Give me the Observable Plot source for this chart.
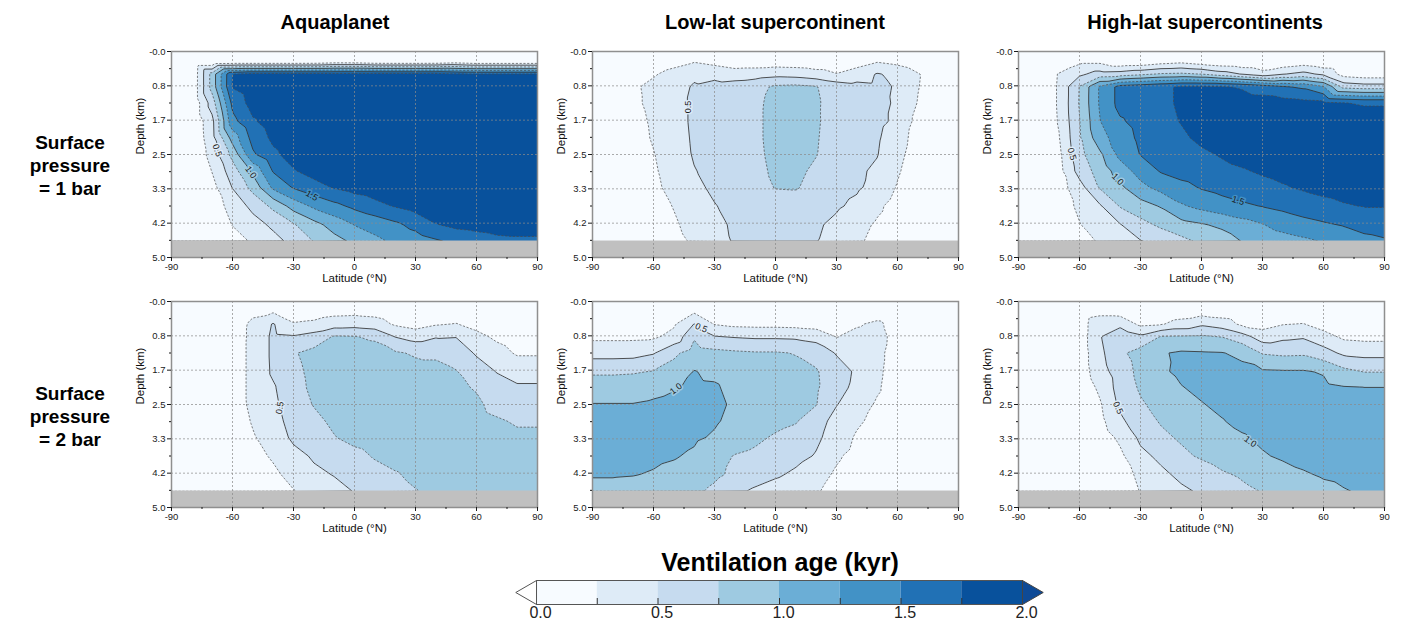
<!DOCTYPE html>
<html><head><meta charset="utf-8">
<script src="https://cdn.jsdelivr.net/npm/d3@7"></script>
<script src="https://cdn.jsdelivr.net/npm/@observablehq/plot@0.6"></script>
<style>
html,body{margin:0;padding:0;background:#fff;}
#root{position:relative;width:1402px;height:628px;overflow:hidden;font-family:"Liberation Sans",Arial,sans-serif;color:#000;}
.abs{position:absolute;white-space:nowrap;transform:translate(-50%,-50%);}
.ctitle{font-weight:bold;font-size:20px;}
.rlabel{font-weight:bold;font-size:19px;line-height:23px;text-align:center;}
.cbtitle{font-weight:bold;font-size:25px;}
</style></head>
<body><div id="root"></div>
<script>
// ---------- grid axes of the sampled fields ----------
const lats = [-90,-80,-70,-60,-50,-40,-30,-20,-10,0,10,20,30,40,50,60,70,80,90];
const depths = [0, 0.25, 0.55, 0.85, 1.25, 1.7, 2.1, 2.5, 2.9, 3.3, 3.75, 4.2, 4.6];

// ---------- ventilation age (kyr), rows = depths, columns = lats ----------
const aquaplanet1bar = [
 [0,0,0,0,0,0,0,0,0,0,0,0,0,0,0,0,0,0,0],
 [0,0,0,0.02,0.02,0.02,0.02,0.03,0.1,0.1,0.03,0.02,0.02,0.03,0.1,0.02,0.02,0.02,0.02],
 [0,0.02,0.85,1.76,1.85,1.85,1.85,1.85,1.85,1.85,1.85,1.85,1.85,1.85,1.8,1.78,1.78,1.78,1.78],
 [0,0.02,0.85,1.77,1.9,1.9,1.9,1.9,1.9,1.9,1.9,1.9,1.9,1.9,1.9,1.9,1.9,1.9,1.9],
 [0,0.02,0.62,1.57,1.85,1.9,1.9,1.9,1.9,1.9,1.9,1.9,1.9,1.9,1.9,1.9,1.9,1.9,1.9],
 [0,0.02,0.43,1.42,1.72,1.86,1.9,1.9,1.9,1.9,1.9,1.9,1.9,1.9,1.9,1.9,1.9,1.9,1.9],
 [0,0.02,0.41,1.1,1.59,1.8,1.9,1.9,1.9,1.9,1.9,1.9,1.9,1.9,1.9,1.9,1.9,1.9,1.9],
 [0,0.02,0.35,0.83,1.46,1.7,1.85,1.9,1.9,1.9,1.9,1.9,1.9,1.9,1.9,1.9,1.9,1.9,1.9],
 [0,0.02,0.26,0.63,1.06,1.52,1.73,1.85,1.9,1.9,1.9,1.9,1.9,1.9,1.9,1.9,1.9,1.9,1.9],
 [0,0.02,0.17,0.51,0.83,1.3,1.52,1.65,1.77,1.85,1.9,1.9,1.9,1.9,1.9,1.9,1.9,1.9,1.9],
 [0,0.02,0.12,0.34,0.57,0.81,1.1,1.3,1.43,1.56,1.67,1.77,1.85,1.9,1.9,1.9,1.9,1.9,1.9],
 [0,0.02,0.1,0.26,0.4,0.55,0.73,0.92,1.1,1.26,1.35,1.45,1.58,1.74,1.82,1.85,1.88,1.88,1.88],
 [0,0.02,0.05,0.15,0.28,0.42,0.57,0.76,0.92,1.05,1.19,1.3,1.38,1.47,1.56,1.62,1.68,1.7,1.7]
];
const lowLat1bar = [
 [0.03,0.03,0.03,0.03,0.03,0.03,0.03,0.03,0.03,0.03,0.03,0.03,0.03,0.03,0.03,0.03,0.03,0.03,0.03],
 [0.05,0.06,0.08,0.12,0.18,0.24,0.18,0.12,0.12,0.13,0.12,0.1,0.1,0.15,0.24,0.18,0.08,0.05,0.05],
 [0.05,0.08,0.15,0.23,0.32,0.46,0.42,0.36,0.38,0.42,0.4,0.34,0.26,0.36,0.52,0.44,0.27,0.1,0.07],
 [0.05,0.1,0.22,0.3,0.42,0.52,0.58,0.62,0.68,0.78,0.8,0.76,0.64,0.58,0.55,0.48,0.26,0.12,0.08],
 [0.05,0.1,0.21,0.3,0.42,0.54,0.6,0.64,0.7,0.82,0.84,0.78,0.65,0.6,0.56,0.47,0.24,0.12,0.08],
 [0.05,0.1,0.18,0.28,0.41,0.54,0.6,0.65,0.7,0.83,0.85,0.78,0.64,0.59,0.56,0.45,0.17,0.1,0.07],
 [0.05,0.08,0.16,0.27,0.4,0.53,0.6,0.64,0.7,0.83,0.85,0.77,0.63,0.58,0.53,0.36,0.15,0.08,0.06],
 [0.05,0.08,0.15,0.24,0.38,0.52,0.58,0.63,0.69,0.82,0.84,0.76,0.62,0.56,0.51,0.32,0.13,0.07,0.05],
 [0.04,0.07,0.13,0.22,0.35,0.49,0.56,0.61,0.67,0.8,0.81,0.7,0.6,0.54,0.46,0.28,0.1,0.06,0.05],
 [0.04,0.06,0.11,0.2,0.32,0.45,0.54,0.59,0.65,0.76,0.77,0.66,0.58,0.53,0.43,0.23,0.09,0.05,0.04],
 [0.03,0.05,0.09,0.16,0.26,0.38,0.49,0.56,0.6,0.63,0.62,0.58,0.53,0.45,0.3,0.15,0.07,0.04,0.03],
 [0.03,0.04,0.07,0.13,0.22,0.33,0.45,0.53,0.56,0.58,0.57,0.53,0.45,0.33,0.22,0.12,0.05,0.03,0.03],
 [0.02,0.03,0.06,0.11,0.19,0.28,0.42,0.52,0.55,0.56,0.55,0.51,0.4,0.29,0.18,0.1,0.05,0.03,0.02]
];
const highLat1bar = [
 [0.02,0.02,0.02,0.02,0.02,0.02,0.02,0.02,0.02,0.02,0.02,0.02,0.02,0.02,0.02,0.02,0.02,0.02,0.02],
 [0.02,0.02,0.05,0.2,0.2,0.05,0.06,0.15,0.2,0.12,0.06,0.04,0.03,0.06,0.12,0.05,0.03,0.02,0.02],
 [0.02,0.04,0.27,0.45,0.6,0.62,0.7,0.78,0.8,0.75,0.62,0.49,0.35,0.49,0.58,0.45,0.15,0.1,0.1],
 [0.03,0.05,0.28,0.76,1.28,1.58,1.63,1.7,1.78,1.78,1.77,1.72,1.62,1.52,1.45,1.26,0.65,0.6,0.6],
 [0.03,0.05,0.28,0.77,1.28,1.58,1.63,1.7,1.78,1.85,1.88,1.88,1.87,1.85,1.82,1.8,1.76,1.72,1.72],
 [0.03,0.05,0.27,0.74,1.24,1.47,1.58,1.68,1.76,1.85,1.88,1.9,1.9,1.9,1.9,1.9,1.9,1.9,1.9],
 [0.03,0.05,0.24,0.72,1.15,1.38,1.55,1.63,1.71,1.8,1.85,1.9,1.9,1.9,1.9,1.9,1.9,1.9,1.9],
 [0.03,0.04,0.2,0.68,0.95,1.32,1.51,1.58,1.65,1.71,1.77,1.83,1.87,1.9,1.9,1.9,1.9,1.9,1.9],
 [0.03,0.04,0.17,0.6,0.85,1.12,1.35,1.52,1.6,1.65,1.69,1.73,1.78,1.82,1.85,1.88,1.88,1.88,1.88],
 [0.03,0.04,0.14,0.4,0.77,0.95,1.18,1.33,1.42,1.52,1.58,1.63,1.68,1.73,1.78,1.82,1.85,1.87,1.87],
 [0.03,0.04,0.12,0.3,0.47,0.77,0.9,1.02,1.22,1.32,1.4,1.46,1.51,1.56,1.62,1.68,1.73,1.76,1.76],
 [0.02,0.03,0.1,0.24,0.4,0.49,0.67,0.8,0.92,0.98,1.05,1.15,1.24,1.35,1.42,1.47,1.52,1.6,1.63],
 [0.02,0.03,0.08,0.18,0.27,0.38,0.49,0.58,0.68,0.8,0.88,1.01,1.08,1.14,1.2,1.27,1.35,1.42,1.47]
];
const aquaplanet2bar = [
 [0.03,0.03,0.03,0.03,0.03,0.03,0.03,0.03,0.03,0.03,0.03,0.03,0.03,0.03,0.03,0.03,0.03,0.03,0.03],
 [0.05,0.05,0.05,0.05,0.2,0.23,0.12,0.14,0.18,0.19,0.17,0.1,0.08,0.1,0.12,0.08,0.05,0.05,0.05],
 [0.05,0.05,0.06,0.12,0.3,0.52,0.27,0.3,0.38,0.4,0.36,0.22,0.15,0.23,0.26,0.17,0.1,0.07,0.07],
 [0.05,0.06,0.08,0.14,0.3,0.55,0.52,0.6,0.77,0.76,0.71,0.49,0.4,0.48,0.49,0.32,0.2,0.12,0.12],
 [0.05,0.06,0.08,0.15,0.3,0.55,0.73,0.82,0.86,0.87,0.85,0.78,0.72,0.72,0.65,0.47,0.35,0.22,0.22],
 [0.05,0.06,0.08,0.15,0.3,0.54,0.7,0.8,0.86,0.88,0.88,0.86,0.84,0.8,0.76,0.63,0.49,0.42,0.42],
 [0.05,0.06,0.08,0.15,0.3,0.47,0.68,0.79,0.86,0.88,0.88,0.87,0.86,0.84,0.8,0.73,0.6,0.53,0.53],
 [0.05,0.06,0.08,0.14,0.3,0.44,0.65,0.76,0.84,0.88,0.9,0.9,0.88,0.86,0.84,0.8,0.66,0.62,0.62],
 [0.05,0.05,0.07,0.12,0.27,0.4,0.6,0.7,0.79,0.86,0.88,0.89,0.89,0.88,0.86,0.84,0.78,0.72,0.72],
 [0.04,0.05,0.06,0.1,0.23,0.35,0.55,0.64,0.74,0.82,0.86,0.88,0.88,0.88,0.87,0.86,0.84,0.8,0.8],
 [0.04,0.05,0.06,0.09,0.17,0.28,0.42,0.53,0.6,0.68,0.77,0.83,0.86,0.87,0.87,0.87,0.86,0.85,0.85],
 [0.04,0.04,0.05,0.07,0.13,0.2,0.33,0.45,0.51,0.6,0.67,0.73,0.8,0.85,0.86,0.86,0.86,0.85,0.85],
 [0.03,0.04,0.05,0.06,0.1,0.16,0.24,0.33,0.43,0.51,0.6,0.68,0.74,0.8,0.84,0.85,0.85,0.85,0.85]
];
const lowLat2bar = [
 [0.03,0.03,0.03,0.03,0.03,0.03,0.03,0.03,0.03,0.03,0.03,0.03,0.03,0.03,0.03,0.03,0.03,0.03,0.03],
 [0.08,0.08,0.08,0.08,0.1,0.22,0.1,0.08,0.08,0.08,0.08,0.08,0.08,0.08,0.1,0.06,0.05,0.05,0.05],
 [0.1,0.1,0.11,0.12,0.22,0.51,0.24,0.19,0.18,0.18,0.17,0.15,0.13,0.22,0.31,0.12,0.06,0.05,0.05],
 [0.2,0.2,0.2,0.21,0.32,0.72,0.51,0.48,0.46,0.46,0.45,0.4,0.24,0.33,0.36,0.14,0.06,0.05,0.05],
 [0.4,0.4,0.41,0.48,0.7,0.86,0.82,0.79,0.77,0.77,0.74,0.67,0.48,0.38,0.32,0.13,0.06,0.05,0.05],
 [0.72,0.72,0.73,0.76,0.85,1.01,0.95,0.9,0.86,0.84,0.81,0.77,0.62,0.46,0.3,0.13,0.06,0.05,0.05],
 [0.86,0.86,0.87,0.92,0.98,1.04,1.03,0.93,0.88,0.86,0.83,0.78,0.58,0.44,0.28,0.12,0.06,0.05,0.05],
 [1.01,1.01,1.01,1.04,1.08,1.1,1.06,0.96,0.9,0.87,0.83,0.76,0.51,0.36,0.22,0.12,0.06,0.05,0.05],
 [1.1,1.1,1.1,1.11,1.12,1.1,1.03,0.93,0.86,0.82,0.77,0.6,0.42,0.29,0.18,0.1,0.05,0.05,0.05],
 [1.12,1.12,1.12,1.11,1.09,1.04,0.97,0.86,0.8,0.72,0.66,0.55,0.38,0.22,0.12,0.07,0.05,0.05,0.05],
 [1.1,1.1,1.08,1.05,1.02,0.96,0.82,0.74,0.7,0.65,0.58,0.48,0.28,0.18,0.1,0.06,0.05,0.05,0.05],
 [1.02,1.02,1.01,0.98,0.93,0.88,0.8,0.7,0.62,0.54,0.45,0.33,0.22,0.14,0.09,0.06,0.05,0.05,0.05],
 [0.92,0.92,0.9,0.87,0.84,0.8,0.7,0.56,0.46,0.38,0.32,0.27,0.18,0.12,0.08,0.05,0.05,0.05,0.05]
];
const highLat2bar = [
 [0.03,0.03,0.03,0.03,0.03,0.03,0.03,0.03,0.03,0.03,0.03,0.03,0.03,0.03,0.03,0.03,0.03,0.03,0.03],
 [0.05,0.05,0.05,0.06,0.15,0.15,0.08,0.08,0.12,0.15,0.12,0.08,0.06,0.08,0.1,0.06,0.05,0.05,0.05],
 [0.05,0.05,0.06,0.1,0.46,0.43,0.2,0.23,0.34,0.46,0.38,0.2,0.16,0.24,0.26,0.15,0.1,0.1,0.1],
 [0.05,0.05,0.06,0.1,0.48,0.68,0.55,0.76,0.77,0.78,0.74,0.6,0.37,0.44,0.47,0.34,0.2,0.18,0.18],
 [0.05,0.05,0.06,0.1,0.44,0.7,0.85,0.98,1.03,1.02,1.01,0.95,0.73,0.7,0.71,0.6,0.45,0.42,0.42],
 [0.05,0.05,0.06,0.1,0.4,0.62,0.82,0.97,1.04,1.07,1.08,1.06,1.03,1.02,1.02,0.98,0.82,0.74,0.74],
 [0.04,0.04,0.05,0.06,0.3,0.6,0.78,0.9,0.99,1.04,1.07,1.08,1.08,1.08,1.07,1.06,1.02,1.01,1.01],
 [0.04,0.04,0.05,0.06,0.22,0.55,0.72,0.83,0.93,0.99,1.04,1.08,1.1,1.1,1.1,1.09,1.08,1.08,1.08],
 [0.04,0.04,0.05,0.06,0.18,0.45,0.65,0.77,0.86,0.93,0.99,1.05,1.08,1.1,1.1,1.1,1.09,1.09,1.09],
 [0.04,0.04,0.05,0.06,0.12,0.3,0.55,0.7,0.78,0.86,0.93,0.98,1.04,1.08,1.09,1.1,1.1,1.1,1.1],
 [0.04,0.04,0.04,0.05,0.09,0.2,0.44,0.55,0.7,0.78,0.85,0.92,0.98,1.03,1.06,1.08,1.09,1.09,1.09],
 [0.03,0.03,0.04,0.05,0.08,0.15,0.3,0.45,0.55,0.63,0.72,0.78,0.85,0.92,0.98,1.02,1.04,1.05,1.05],
 [0.03,0.03,0.04,0.05,0.07,0.12,0.26,0.36,0.46,0.53,0.62,0.7,0.76,0.83,0.9,0.95,0.99,1.02,1.03]
];

// ---------- contour labels (anchor on the line) ----------
const aquaplanet1barLabels = [
 {lat:-67.5, depth:2.4, text:"0.5", level:0.5, angle:72},
 {lat:-51, depth:2.93, text:"1.0", level:1.0, angle:55},
 {lat:-21, depth:3.5, text:"1.5", level:1.5, angle:30}
];
const lowLat1barLabels = [ {lat:-43.2, depth:1.35, text:"0.5", level:0.5, angle:-90} ];
const highLat1barLabels = [
 {lat:-63.7, depth:2.49, text:"0.5", level:0.5, angle:75},
 {lat:-41.2, depth:3.1, text:"1.0", level:1.0, angle:45},
 {lat:18, depth:3.62, text:"1.5", level:1.5, angle:18}
];
const aquaplanet2barLabels = [ {lat:-36.7, depth:2.58, text:"0.5", level:0.5, angle:-82} ];
const lowLat2barLabels = [
 {lat:-36.5, depth:0.64, text:"0.5", level:0.5, angle:22},
 {lat:-49, depth:2.12, text:"1.0", level:1.0, angle:-38}
];
const highLat2barLabels = [
 {lat:-41, depth:2.58, text:"0.5", level:0.5, angle:65},
 {lat:24, depth:3.4, text:"1.0", level:1.0, angle:35}
];

// ---------- scales, ticks, texts ----------
const levels = [0.25,0.5,0.75,1.0,1.25,1.5,1.75];
const solidLevels = [0.5,1.0,1.5];
const dashedLevels = [0.25,0.75,1.25,1.75];
const blues = ["#f7fbff","#deebf7","#c6dbef","#9ecae1","#6baed6","#4292c6","#2171b5","#08519c"];
const latTicks = [-90,-60,-30,0,30,60,90];
const latMinorTicks = [-75,-45,-15,15,45,75];
const depthTicks = [0,0.8333,1.6667,2.5,3.3333,4.1667,5];
const depthLabels = ["-0.0","0.8","1.7","2.5","3.3","4.2","5.0"];
const depthMinorTicks = [0.4167,1.25,2.0833,2.9167,3.75,4.5833];
const seafloorDepth = [4.6];
const maxDepth = 5;
const columnTitles = ["Aquaplanet","Low-lat supercontinent","High-lat supercontinents"];
const rowTitles = [["Surface","pressure","= 1 bar"],["Surface","pressure","= 2 bar"]];
const colorbarTitle = "Ventilation age (kyr)";
const colorbarEdges = [0,0.25,0.5,0.75,1.0,1.25,1.5,1.75,2.0];
const colorbarTicks = [0,0.5,1,1.5,2];
const colorbarLabels = ["0.0","0.5","1.0","1.5","2.0"];

// ---------- layout ----------
const FONT = "'Liberation Sans', Arial, sans-serif";
const root = document.getElementById("root");
const FW = 366, FH = 206, ML = 46, MR = 8, MT = 6, MB = 36;
const frameLeft = [171, 592, 1018], frameTop = [51, 301];
const panels = [
 [aquaplanet1bar, aquaplanet1barLabels, 0, 0],
 [lowLat1bar, lowLat1barLabels, 1, 0],
 [highLat1bar, highLat1barLabels, 2, 0],
 [aquaplanet2bar, aquaplanet2barLabels, 0, 1],
 [lowLat2bar, lowLat2barLabels, 1, 1],
 [highLat2bar, highLat2barLabels, 2, 1]
];

function place(el, left, top) {
  el.style.position = "absolute";
  el.style.left = left + "px";
  el.style.top = top + "px";
  root.appendChild(el);
}

const gridStyle = {stroke: "#8a8a8a", strokeOpacity: 0.9, strokeWidth: 0.8, strokeDasharray: "2,2"};

for (const [values, labels, col, row] of panels) {
  const pts = [];
  depths.forEach((d, i) => lats.forEach((lat, j) => pts.push({lat, depth: d, v: values[i][j]})));
  const base = {x: "lat", y: "depth", interpolate: "barycentric", pixelSize: 1, clip: true};
  const svg = Plot.plot({
    width: FW + ML + MR, height: FH + MT + MB,
    marginLeft: ML, marginRight: MR, marginTop: MT, marginBottom: MB,
    style: {background: "transparent", fontFamily: FONT, fontSize: "9.5px", color: "#1a1a1a", overflow: "visible"},
    x: {domain: [-90, 90]},
    y: {domain: [0, maxDepth], reverse: true},
    color: {type: "threshold", domain: levels, range: blues},
    marks: [
      Plot.frame({fill: blues[0]}),
      Plot.contour(pts, {...base, fill: "v", thresholds: levels}),
      Plot.contour(pts, {...base, value: "v", thresholds: dashedLevels, fill: "none", stroke: "#474747", strokeWidth: 0.7, strokeDasharray: "2.2,1.6"}),
      Plot.contour(pts, {...base, value: "v", thresholds: solidLevels, fill: "none", stroke: "#333", strokeWidth: 0.85}),
      Plot.text(labels, {x: "lat", y: "depth", text: "text", rotate: "angle", fontSize: 9, fill: "#1a1a1a", stroke: d => d.level - 0.125, strokeWidth: 3}),
      Plot.rect(seafloorDepth, {y1: d => d, y2: () => maxDepth, fill: "#c0c0c0"}),
      Plot.gridX({ticks: latTicks, ...gridStyle}),
      Plot.gridY({ticks: depthTicks, ...gridStyle}),
      Plot.frame({stroke: "#8f8f8f", strokeWidth: 1.5}),
      Plot.axisX({ticks: latTicks, tickSize: 4, tickPadding: 2, tickFormat: d => String(d), label: null, fontSize: 9.5}),
      Plot.axisX({ticks: latMinorTicks, tickSize: 2, tickFormat: () => "", label: null}),
      Plot.axisY({ticks: depthTicks, tickSize: 4, tickPadding: 2, tickFormat: d => depthLabels[depthTicks.indexOf(d)], label: null, fontSize: 9.5}),
      Plot.axisY({ticks: depthMinorTicks, tickSize: 2, tickFormat: () => "", label: null}),
      Plot.text(["Depth (km)"], {text: d => d, frameAnchor: "left", dx: -31, rotate: -90, fontSize: 11.5, fill: "#111"}),
      Plot.text(["Latitude (°N)"], {text: d => d, frameAnchor: "bottom", dy: 24, fontSize: 11.5, fill: "#111"})
    ]
  });
  place(svg, frameLeft[col] - ML, frameTop[row] - MT);
}

// titles
const titleX = [335, 775, 1205];
columnTitles.forEach((t, i) => {
  const d = document.createElement("div");
  d.className = "abs ctitle"; d.textContent = t;
  d.style.left = titleX[i] + "px"; d.style.top = "22px";
  root.appendChild(d);
});
const rowY = [165, 416];
rowTitles.forEach((lines, i) => {
  const d = document.createElement("div");
  d.className = "abs rlabel"; d.innerHTML = lines.join("<br>");
  d.style.left = "70px"; d.style.top = rowY[i] + "px";
  root.appendChild(d);
});
const cbt = document.createElement("div");
cbt.className = "abs cbtitle"; cbt.textContent = colorbarTitle;
cbt.style.left = "780px"; cbt.style.top = "562px";
root.appendChild(cbt);

// colorbar
const bins = blues.map((c, i) => ({x1: colorbarEdges[i], x2: colorbarEdges[i + 1], mid: (colorbarEdges[i] + colorbarEdges[i + 1]) / 2}));
const CBL = 40, CBR = 40, CBT = 2, CBH = 24, CBB = 26;
const cb = Plot.plot({
  width: 486 + CBL + CBR, height: CBT + CBH + CBB,
  marginLeft: CBL, marginRight: CBR, marginTop: CBT, marginBottom: CBB,
  style: {background: "transparent", fontFamily: FONT, overflow: "visible", color: "#222"},
  x: {domain: [colorbarEdges[0], colorbarEdges[colorbarEdges.length - 1]], axis: null},
  color: {type: "threshold", domain: levels, range: blues},
  marks: [
    Plot.rect(bins, {x1: "x1", x2: "x2", fill: "mid"}),
    Plot.ruleX(levels, {x: d => d, insetTop: 18, stroke: "#333", strokeWidth: 1}),
    Plot.frame({stroke: "#555", strokeWidth: 1}),
    Plot.dot([colorbarEdges[0]], {x: d => d, dx: -6.9, symbol: "triangle", rotate: -90, r: 8.9, fill: "white", stroke: "#555", strokeWidth: 1}),
    Plot.dot([colorbarEdges[colorbarEdges.length - 1]], {x: d => d, dx: 6.9, symbol: "triangle", rotate: 90, r: 8.9, fill: "#0e4a96", stroke: "#444", strokeWidth: 1}),
    Plot.text(colorbarTicks, {x: d => d, text: (d, i) => colorbarLabels[i], frameAnchor: "bottom", dy: 13, dx: 4, fontSize: 16, fill: "#222"})
  ]
});
place(cb, 536 - CBL, 580 - CBT);
</script>
</body></html>
